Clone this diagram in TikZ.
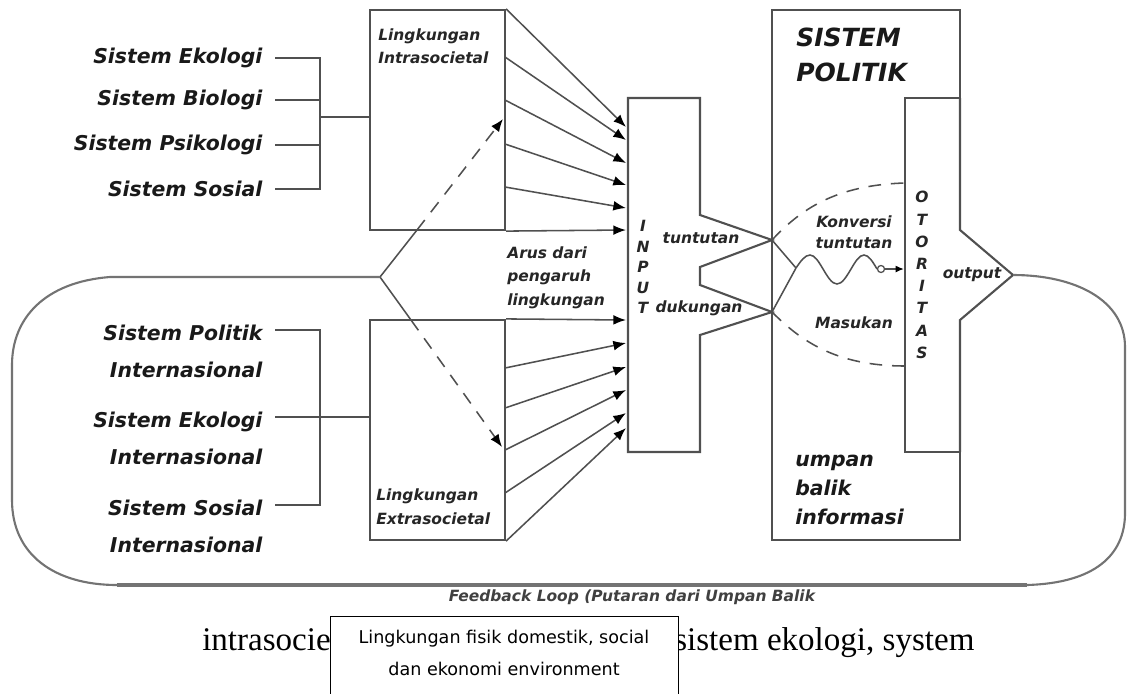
\documentclass[tikz,border=0pt]{standalone}
\usepackage{fontspec}
\setmainfont{Liberation Serif}
\newfontfamily\dvsans{DejaVu Sans}
\usetikzlibrary{arrows.meta}

\definecolor{garisabu}{RGB}{80,80,80}
\definecolor{loopabu}{RGB}{115,115,115}

\tikzset{
  sistem/.style={font=\dvsans\bfseries\itshape\fontsize{14.5}{26}\selectfont, inner sep=0pt, outer xsep=9pt, text=black!90},
  kecil/.style={font=\dvsans\bfseries\itshape\fontsize{11}{17}\selectfont, inner sep=0pt, text=black!85},
  huruf/.style={font=\dvsans\bfseries\itshape\fontsize{11}{#1}\selectfont, inner sep=0pt, align=center, text=black!85},
  kotak/.style={draw=garisabu, line width=1.5pt},
  garis/.style={draw=garisabu, line width=1.1pt},
  panah/.style={garis, ->},
  putus/.style={garis, dash pattern=on 9pt off 7pt},
}

\begin{document}
\begin{tikzpicture}[x=0.025cm,y=-0.025cm,>={Latex[length=9pt,width=7pt,color=black]}]
\useasboundingbox (0,0) rectangle (1129,693);

% sistem di kiri
\node[sistem, anchor=east] (SE) at (275,58) {Sistem Ekologi};
\node[sistem, anchor=east] (SB) at (275,100) {Sistem Biologi};
\node[sistem, anchor=east] (SPs) at (275,145) {Sistem Psikologi};
\node[sistem, anchor=east] (SSo) at (275,189) {Sistem Sosial};
\node[sistem, anchor=south east, align=right] (SPI) at (275,378) {Sistem Politik\\Internasional};
\node[sistem, anchor=south east, align=right] (SEI) at (275,465) {Sistem Ekologi\\Internasional};
\node[sistem, anchor=south east, align=right] (SSI) at (275,553) {Sistem Sosial\\Internasional};

% lingkungan
\node[kotak, minimum width=3.375cm, minimum height=5.5cm, inner sep=0pt] (LI) at (437.5,120) {};
\node[kotak, minimum width=3.375cm, minimum height=5.5cm, inner sep=0pt] (LE) at (437.5,430) {};
\node[kecil, anchor=north west, align=left] (LIt) at (378,28) {Lingkungan\\Intrasocietal};
\node[kecil, anchor=south west, align=left] (LEt) at (376,525) {Lingkungan\\Extrasocietal};

\coordinate (BA) at (320,117);
\coordinate (BB) at (320,417);
\draw[garis] (SE.east) -| (BA);
\draw[garis] (SSo.east) -| (BA);
\draw[garis] (SB.east) -- (SB.east -| BA);
\draw[garis] (SPs.east) -- (SPs.east -| BA);
\draw[garis] (BA) -- (BA -| LI.west);
\coordinate (e1) at ([yshift=-3.5pt]SPI.north east);
\coordinate (e2) at ([yshift=-3.5pt]SEI.north east);
\coordinate (e3) at ([yshift=-3.5pt]SSI.north east);
\draw[garis] (e1) -| (BB);
\draw[garis] (e3) -| (BB);
\draw[garis] (e2) -- (e2 -| LE.west);

% input
\coordinate (TT) at (772,240);
\coordinate (DK) at (772,312);
\draw[kotak] (628,98) -- (700,98) -- (700,215) -- (TT) -- (700,267) -- (700,285)
  -- (DK) -- (700,335) -- (700,452) -- (628,452) -- cycle;
\node[huruf=14.5pt] (INT) at (643,267) {I\\N\\P\\U\\T};
\node[kecil] (TU) at (701,238) {tuntutan};
\node[kecil] (DU) at (699,308) {dukungan};

\coordinate (LI1) at (505,57);
\coordinate (LI2) at (505,100);
\coordinate (LI3) at (505,144);
\coordinate (LI4) at (505,187);
\coordinate (LE1) at (505,368);
\coordinate (LE2) at (505,408);
\coordinate (LE3) at (505,450);
\coordinate (LE4) at (505,493);
\coordinate (IN1) at (626,127);
\coordinate (IN2) at (626,140);
\coordinate (IN3) at (626,163);
\coordinate (IN4) at (626,185);
\coordinate (IN5) at (626,208);
\coordinate (IN6) at (626,230);
\coordinate (IN7) at (626,320);
\coordinate (IN8) at (626,343);
\coordinate (IN9) at (626,367);
\coordinate (IN10) at (626,390);
\coordinate (IN11) at (626,413);
\coordinate (IN12) at (626,428);
\draw[panah] (LI.north east) -- (IN1);
\draw[panah] (LI1) -- (IN2);
\draw[panah] (LI2) -- (IN3);
\draw[panah] (LI3) -- (IN4);
\draw[panah] (LI4) -- (IN5);
\draw[panah] (LI.south east) -- (IN6);
\draw[panah] (LE.north east) -- (IN7);
\draw[panah] (LE1) -- (IN8);
\draw[panah] (LE2) -- (IN9);
\draw[panah] (LE3) -- (IN10);
\draw[panah] (LE4) -- (IN11);
\draw[panah] (LE.south east) -- (IN12);

% arus dari pengaruh lingkungan
\coordinate (AR) at (380,277);
\coordinate (AU) at (417,230);
\coordinate (AD) at (411,320);
\coordinate (AUe) at (503,119);
\coordinate (ADe) at (502,447);
\draw[garis] (AR) -- (AU);
\draw[putus, ->] (AU) -- (AUe);
\draw[garis] (AR) -- (AD);
\draw[putus, ->] (AD) -- (ADe);
\node[kecil, anchor=north west, align=left] (ARt) at (507,246) {Arus dari\\pengaruh\\lingkungan};

% sistem politik
\coordinate (OUT) at (1013,275);
\draw[kotak] (960,98) -- (960,10) -- (772,10) -- (772,540) -- (960,540) -- (960,452);
\draw[kotak] (960,98) -- (905,98) -- (905,452) -- (960,452);
\draw[kotak] (960,98) -- (960,230) -- (OUT) -- (960,320) -- (960,452);
\node[font=\dvsans\bfseries\itshape\fontsize{17.8}{24.8}\selectfont, anchor=north west, align=left, inner sep=0pt, text=black!90] (SPT) at (796,28) {SISTEM\\POLITIK};
\node[huruf=15.8pt] (OTO) at (922,275) {O\\T\\O\\R\\I\\T\\A\\S};
\node[kecil] (OP) at (972,275) {output};
\node[kecil, align=center, font=\dvsans\bfseries\itshape\fontsize{11}{15}\selectfont] (KV) at (854,232) {Konversi\\tuntutan};
\node[kecil] (MS) at (854,323) {Masukan};
\node[font=\dvsans\bfseries\itshape\fontsize{14.5}{20.5}\selectfont, anchor=south west, align=left, inner sep=0pt, text=black!90] (UB) at (795,525) {umpan\\balik\\informasi};

% konversi
\coordinate (CV) at (796,268);
\coordinate (WE) at (877,269);
\coordinate (OTL) at (904,269);
\draw[garis] (TT) -- (CV);
\draw[garis] (DK) -- (CV);
\draw[putus] (TT) .. controls (800,210) and (835,185) .. (905,183);
\draw[putus] (DK) .. controls (800,340) and (835,366) .. (905,366);
\draw[garis] (CV) sin (810,255) cos (823,269) sin (837,284) cos (851,269) sin (864,255) cos (WE);
\node[circle, draw=garisabu, line width=0.9pt, inner sep=0pt, minimum size=5pt] (CI) at (881,269) {};
\draw[garis] (WE) -- (CI);
\draw[garis, -{Latex[length=6pt,width=5pt,color=black]}] (CI) -- (OTL);

% feedback loop
\draw[loopabu, line width=1.5pt] (AR) -- (110,277) .. controls (45,282) and (12,318) .. (12,365)
  -- (12,500) .. controls (12,555) and (55,585) .. (117,585);
\draw[loopabu, line width=2.2pt] (117,585) -- (1027,585);
\draw[loopabu, line width=1.5pt] (1027,585)
  .. controls (1095,583) and (1125,555) .. (1125,513) -- (1125,347)
  .. controls (1125,300) and (1075,275) .. (OUT);
\node[kecil, text=black!75] (FB) at (632,597) {Feedback Loop (Putaran dari Umpan Balik};

% teks bawah
\node[font=\fontsize{23.5}{28}\selectfont, anchor=base west, inner sep=0pt] (IS) at (202,650) {intrasocie};
\node[font=\fontsize{23.5}{28}\selectfont, anchor=base west, inner sep=0pt] (SK) at (674,650) {sistem ekologi, system};
\node[draw=black, line width=0.8pt, fill=white, anchor=north west, minimum width=8.7cm, minimum height=2.5cm, inner sep=0pt] (KT) at (330,616) {};
\node[font=\dvsans\fontsize{12.5}{22.7}\selectfont, align=center, anchor=north, inner sep=0pt] (KTt) at (504,630) {Lingkungan fisik domestik, social\\dan ekonomi environment};
\end{tikzpicture}
\end{document}
